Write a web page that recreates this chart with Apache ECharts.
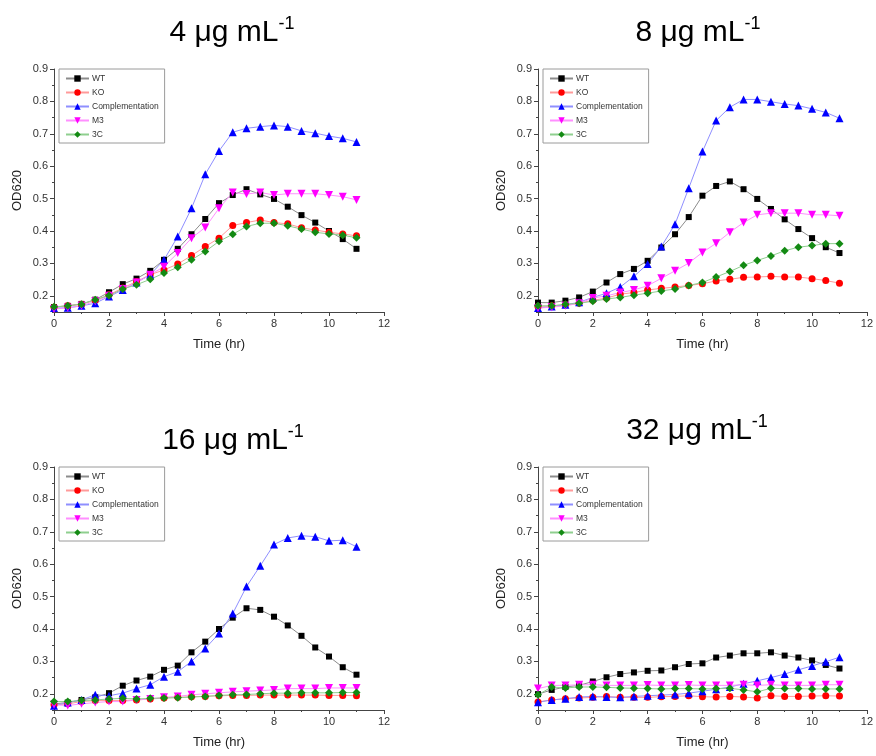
<!DOCTYPE html>
<html>
<head>
<meta charset="utf-8">
<script src="https://cdn.jsdelivr.net/npm/echarts@6/dist/echarts.min.js"></script>
<style>
  html, body { margin: 0; padding: 0; background: #fff; }
  #mains { width: 876px; height: 756px; }
</style>
</head>
<body>
<div id="mains"></div>
<script>
var myCharts = echarts.init(document.getElementById("mains"));

// time points (hr)
var times = [0, 0.5, 1, 1.5, 2, 2.5, 3, 3.5, 4, 4.5, 5, 5.5, 6, 6.5, 7, 7.5, 8, 8.5, 9, 9.5, 10, 10.5, 11];
var names = ["WT", "KO", "Complementation", "M3", "3C"];
var panelTitles = ["4 μg mL", "8 μg mL", "16 μg mL", "32 μg mL"];
var yTicks = [0.2, 0.3, 0.4, 0.5, 0.6, 0.7, 0.8, 0.9];
var yMinorTicks = [0.15, 0.25, 0.35, 0.45, 0.55, 0.65, 0.75, 0.85];

// 4 ug/mL
var wt4 = [0.165, 0.169, 0.175, 0.188, 0.211, 0.236, 0.253, 0.277, 0.311, 0.345, 0.39, 0.437, 0.486, 0.511, 0.529, 0.513, 0.499, 0.475, 0.449, 0.426, 0.4, 0.375, 0.345];
var ko4 = [0.165, 0.169, 0.174, 0.186, 0.203, 0.224, 0.244, 0.265, 0.28, 0.298, 0.324, 0.352, 0.378, 0.417, 0.426, 0.434, 0.426, 0.422, 0.41, 0.403, 0.396, 0.391, 0.385];
var comp4 = [0.162, 0.163, 0.169, 0.177, 0.198, 0.218, 0.241, 0.265, 0.311, 0.383, 0.47, 0.575, 0.647, 0.705, 0.717, 0.722, 0.726, 0.722, 0.709, 0.702, 0.693, 0.686, 0.675];
var m3_4 = [0.159, 0.163, 0.169, 0.183, 0.2, 0.221, 0.241, 0.265, 0.29, 0.332, 0.378, 0.411, 0.47, 0.519, 0.514, 0.519, 0.511, 0.515, 0.515, 0.515, 0.511, 0.506, 0.496];
var c3_4 = [0.166, 0.169, 0.174, 0.188, 0.201, 0.221, 0.234, 0.251, 0.27, 0.288, 0.311, 0.337, 0.368, 0.39, 0.414, 0.424, 0.424, 0.416, 0.406, 0.396, 0.391, 0.387, 0.379];

// 8 ug/mL
var wt8 = [0.179, 0.179, 0.185, 0.195, 0.213, 0.241, 0.267, 0.283, 0.308, 0.349, 0.39, 0.443, 0.509, 0.539, 0.553, 0.529, 0.499, 0.468, 0.436, 0.406, 0.378, 0.35, 0.332];
var ko8 = [0.167, 0.169, 0.172, 0.177, 0.186, 0.193, 0.205, 0.21, 0.218, 0.223, 0.227, 0.232, 0.237, 0.246, 0.251, 0.257, 0.258, 0.26, 0.258, 0.258, 0.253, 0.247, 0.239];
var comp8 = [0.162, 0.167, 0.172, 0.18, 0.195, 0.208, 0.227, 0.26, 0.298, 0.352, 0.421, 0.532, 0.645, 0.741, 0.782, 0.806, 0.806, 0.799, 0.792, 0.787, 0.777, 0.766, 0.748];
var m3_8 = [0.162, 0.165, 0.169, 0.177, 0.193, 0.2, 0.21, 0.218, 0.231, 0.254, 0.277, 0.301, 0.334, 0.362, 0.396, 0.426, 0.45, 0.455, 0.455, 0.455, 0.45, 0.45, 0.447];
var c3_8 = [0.169, 0.169, 0.174, 0.177, 0.183, 0.19, 0.195, 0.202, 0.208, 0.215, 0.221, 0.232, 0.241, 0.258, 0.275, 0.294, 0.309, 0.323, 0.339, 0.35, 0.355, 0.361, 0.361];

// 16 ug/mL
var wt16 = [0.169, 0.173, 0.181, 0.189, 0.202, 0.225, 0.241, 0.253, 0.274, 0.287, 0.328, 0.361, 0.4, 0.435, 0.464, 0.459, 0.438, 0.411, 0.379, 0.343, 0.315, 0.282, 0.259];
var ko16 = [0.166, 0.169, 0.176, 0.179, 0.179, 0.179, 0.181, 0.184, 0.187, 0.189, 0.191, 0.192, 0.194, 0.195, 0.195, 0.196, 0.196, 0.196, 0.196, 0.196, 0.195, 0.195, 0.194];
var comp16 = [0.163, 0.173, 0.181, 0.197, 0.194, 0.202, 0.216, 0.228, 0.253, 0.268, 0.3, 0.34, 0.386, 0.448, 0.531, 0.595, 0.661, 0.681, 0.688, 0.685, 0.672, 0.674, 0.654];
var m3_16 = [0.166, 0.164, 0.169, 0.173, 0.176, 0.176, 0.181, 0.184, 0.189, 0.192, 0.197, 0.2, 0.203, 0.206, 0.208, 0.21, 0.212, 0.216, 0.216, 0.216, 0.218, 0.218, 0.218];
var c3_16 = [0.176, 0.176, 0.179, 0.181, 0.184, 0.186, 0.184, 0.186, 0.187, 0.188, 0.19, 0.192, 0.195, 0.197, 0.198, 0.2, 0.202, 0.202, 0.203, 0.203, 0.203, 0.204, 0.204];

// 32 ug/mL
var wt32 = [0.199, 0.212, 0.221, 0.226, 0.238, 0.251, 0.261, 0.266, 0.271, 0.272, 0.282, 0.292, 0.294, 0.312, 0.318, 0.325, 0.325, 0.328, 0.318, 0.312, 0.303, 0.289, 0.278];
var ko32 = [0.175, 0.181, 0.185, 0.187, 0.189, 0.192, 0.189, 0.189, 0.189, 0.191, 0.192, 0.194, 0.191, 0.19, 0.192, 0.19, 0.187, 0.194, 0.192, 0.192, 0.193, 0.194, 0.193];
var comp32 = [0.174, 0.181, 0.185, 0.19, 0.192, 0.19, 0.189, 0.192, 0.194, 0.196, 0.198, 0.202, 0.208, 0.214, 0.221, 0.231, 0.24, 0.25, 0.261, 0.274, 0.286, 0.299, 0.313];
var m3_32 = [0.216, 0.226, 0.226, 0.228, 0.228, 0.226, 0.226, 0.226, 0.227, 0.226, 0.226, 0.227, 0.226, 0.226, 0.226, 0.228, 0.226, 0.228, 0.226, 0.226, 0.226, 0.228, 0.228];
var c3_32 = [0.197, 0.221, 0.218, 0.221, 0.221, 0.22, 0.218, 0.217, 0.216, 0.215, 0.216, 0.216, 0.215, 0.216, 0.217, 0.212, 0.206, 0.217, 0.216, 0.216, 0.215, 0.215, 0.215];

var panelData = [
  [wt4, ko4, comp4, m3_4, c3_4],
  [wt8, ko8, comp8, m3_8, c3_8],
  [wt16, ko16, comp16, m3_16, c3_16],
  [wt32, ko32, comp32, m3_32, c3_32],
];

// marker / line styles per strain
var markColors = ["#000000", "#ff0000", "#0000ff", "#ff00ff", "#138a13"];
var lineColors = ["#8c8c8c", "#ff9a9a", "#8f8fff", "#ff8fff", "#8fcf8f"];
var symbols = ["rect", "circle", "triangle", "triangle", "diamond"];
var symbolSizes = [6, 7, 8, 8, 8];
var symbolRotates = [0, 0, 0, 180, 0];

// panel positions
var panels = [
  { left: 54, top: 69, titleX: 227, titleY: 10 },
  { left: 538, top: 69, titleX: 693, titleY: 10 },
  { left: 54, top: 467, titleX: 228, titleY: 418 },
  { left: 538, top: 467, titleX: 692, titleY: 408 },
];

var fontName = "Liberation Sans";
var grids = [];
var xAxes = [];
var yAxes = [];
var titles = [];
var legends = [];
var dataArr = [];

panels.map((p, k) => {
  grids.push({ left: p.left, top: p.top, width: 330, height: 243 });
  titles.push({
    text: "{a|" + panelTitles[k] + "}{s|-1}",
    left: p.titleX,
    top: p.titleY,
    textAlign: "center",
    textStyle: {
      fontWeight: "normal",
      rich: {
        a: { fontFamily: fontName, fontSize: 30, fontWeight: "normal", color: "#000", lineHeight: 36 },
        s: { fontFamily: fontName, fontSize: 18, fontWeight: "normal", color: "#000", verticalAlign: "top", padding: [0, 0, 16, 0], lineHeight: 36 },
      },
    },
  });
  legends.push({
    data: names,
    orient: "vertical",
    left: p.left + 5,
    top: p.top,
    padding: [5, 6, 4, 6],
    itemGap: 5,
    itemWidth: 23,
    itemHeight: 8,
    borderColor: "#9a9a9a",
    borderWidth: 1,
    borderRadius: 0,
    selectedMode: false,
    textStyle: { fontFamily: fontName, fontSize: 8.5, color: "#333", padding: [0, 0, 0, -2] },
  });
  xAxes.push({
    gridIndex: k,
    type: "value",
    min: 0,
    max: 12,
    interval: 2,
    name: "Time (hr)",
    nameLocation: "middle",
    nameGap: 26,
    nameTextStyle: { fontFamily: fontName, fontSize: 13, color: "#222" },
    axisLine: { lineStyle: { color: "#444", width: 1 } },
    axisTick: { length: 4, lineStyle: { color: "#444" } },
    minorTick: { show: true, splitNumber: 2, length: 2, lineStyle: { color: "#444" } },
    axisLabel: { fontFamily: fontName, fontSize: 11, color: "#333", margin: 6 },
    splitLine: { show: false },
  });
  yAxes.push({
    gridIndex: k,
    type: "value",
    min: 0.15,
    max: 0.9,
    name: "OD620",
    nameLocation: "middle",
    nameGap: 30,
    nameTextStyle: { fontFamily: fontName, fontSize: 13, color: "#222" },
    axisLine: { show: true, lineStyle: { color: "#444", width: 1 } },
    axisTick: { show: true, length: 4, customValues: yTicks, lineStyle: { color: "#444" } },
    axisLabel: {
      fontFamily: fontName,
      fontSize: 11,
      color: "#333",
      margin: 6,
      customValues: yTicks,
      formatter: (v) => v.toFixed(1),
    },
    splitLine: { show: false },
  });
  // minor ticks on y
  yAxes.push({
    gridIndex: k,
    type: "value",
    position: "left",
    min: 0.15,
    max: 0.9,
    axisLine: { show: false },
    axisTick: { show: true, length: 2, customValues: yMinorTicks, lineStyle: { color: "#444" } },
    axisLabel: { show: false },
    splitLine: { show: false },
  });

  panelData[k].map((arr, i) => {
    dataArr.push({
      name: names[i],
      type: "line",
      xAxisIndex: k,
      yAxisIndex: k * 2,
      data: times.map((t, j) => [t, arr[j]]),
      symbol: symbols[i],
      symbolSize: symbolSizes[i],
      symbolRotate: symbolRotates[i],
      showAllSymbol: true,
      itemStyle: { color: markColors[i] },
      lineStyle: { color: lineColors[i], width: 1 },
      emphasis: { disabled: true },
      animation: false,
    });
  });
});

option = {
  backgroundColor: "#fff",
  animation: false,
  title: titles,
  legend: legends,
  grid: grids,
  xAxis: xAxes,
  yAxis: yAxes,
  series: dataArr,
};
myCharts.setOption(option);
</script>
</body>
</html>
